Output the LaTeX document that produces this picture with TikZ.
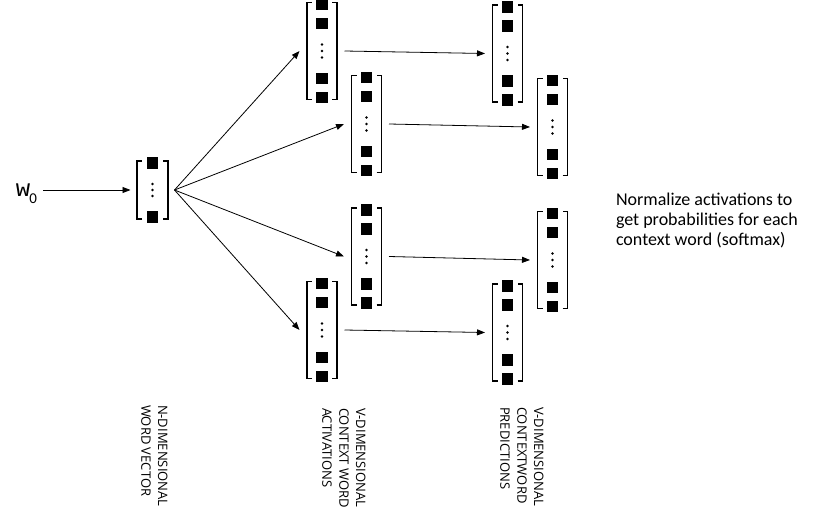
\documentclass[tikz,border=0pt]{standalone}
\usepackage{fontspec}
\setmainfont{Carlito}
\newfontfamily\wfont{Liberation Mono}
\newfontfamily\capfont{Open Sans}
\usetikzlibrary{arrows.meta}

\begin{document}
\begin{tikzpicture}[y=1pt,x=1pt,yscale=-1, inner sep=0pt, outer sep=0pt,
  conn/.style={draw=black,line width=0.8pt,-{Triangle[length=8pt,width=6pt]}},
  brk/.style={draw=black,line join=miter,line cap=butt,line width=1.5pt},
  tallvec/.style={minimum width=34pt,minimum height=108pt,outer sep=5.5pt,
    path picture={
      \begin{scope}[shift={(path picture bounding box.center)}]
      \path[brk] (-10,-48.5) -- (-15,-48.5) -- (-15,48.5) -- (-10,48.5);
      \path[brk] (10,-48.5) -- (15,-48.5) -- (15,48.5) -- (10,48.5);
      \path[fill=black] (-5.75,-52.25) rectangle (5.75,-40.75);
      \path[fill=black] (-5.75,-33.25) rectangle (5.75,-21.75);
      \path[fill=black] (-5.75,21.75) rectangle (5.75,33.25);
      \path[fill=black] (-5.75,40.75) rectangle (5.75,52.25);
      \path[fill=black] (0,-6.5) circle (1.4) (0,0) circle (1.4) (0,6.5) circle (1.4);
      \end{scope}}},
  shortvec/.style={minimum width=35pt,minimum height=70pt,outer sep=4.5pt,
    path picture={
      \begin{scope}[shift={(path picture bounding box.center)}]
      \path[brk] (-10.5,-29) -- (-15.5,-29) -- (-15.5,29) -- (-10.5,29);
      \path[brk] (10.5,-29) -- (15.5,-29) -- (15.5,29) -- (10.5,29);
      \path[fill=black] (-5.75,-32.75) rectangle (5.75,-21.25);
      \path[fill=black] (-5.75,21.25) rectangle (5.75,32.75);
      \path[fill=black] (0,-6) circle (1.4) (0,0) circle (1.4) (0,6) circle (1.4);
      \end{scope}}},
  caption/.style={rotate=-90,anchor=north west,align=left,font=\capfont\fontsize{13}{16.8}\selectfont}]
\useasboundingbox[fill=white] (0,0) rectangle (814,514);

% input word and its vector
\node[anchor=base west,outer sep=6pt] (w0) at (10,196)
  {\wfont\fontsize{24}{24}\selectfont w\kern-1pt\raisebox{-7pt}{\rmfamily\fontsize{15}{15}\selectfont 0}};
\node[shortvec] (invec) at (152.5,190) {};
\draw[conn] (w0.east |- invec) -- (invec.west);

% context word activations
\node[tallvec] (act1) at (322,51) {};
\node[tallvec] (act2) at (366.5,124) {};
\node[tallvec] (act3) at (366.5,256.5) {};
\node[tallvec] (act4) at (322,330) {};

% context word predictions
\node[tallvec] (pred1) at (507.5,53.5) {};
\node[tallvec] (pred2) at (552.5,127) {};
\node[tallvec] (pred3) at (552.5,260) {};
\node[tallvec] (pred4) at (507.5,332.5) {};

\draw[conn] (invec.east) -- (act1.west);
\draw[conn] (invec.east) -- (act2.west);
\draw[conn] (invec.east) -- (act3.west);
\draw[conn] (invec.east) -- (act4.west);

\draw[conn] (act1.east) -- (pred1.west);
\draw[conn] (act2.east) -- (pred2.west);
\draw[conn] (act3.east) -- (pred3.west);
\draw[conn] (act4.east) -- (pred4.west);

\node[anchor=north west,align=left,font=\fontsize{18}{20}\selectfont] (text1) at (616,193)
  {Normalize activations to\\get probabilities for each\\context word (softmax)};

\node[caption] (text2) at (167.5,405) {N-DIMENSIONAL\\WORD VECTOR};
\node[caption] (text3) at (365.5,408) {V-DIMENSIONAL\\CONTEXT WORD\\ACTIVATIONS};
\node[caption] (text4) at (543.5,407) {V-DIMENSIONAL\\CONTEXTWORD\\PREDICTIONS};
\end{tikzpicture}
\end{document}
